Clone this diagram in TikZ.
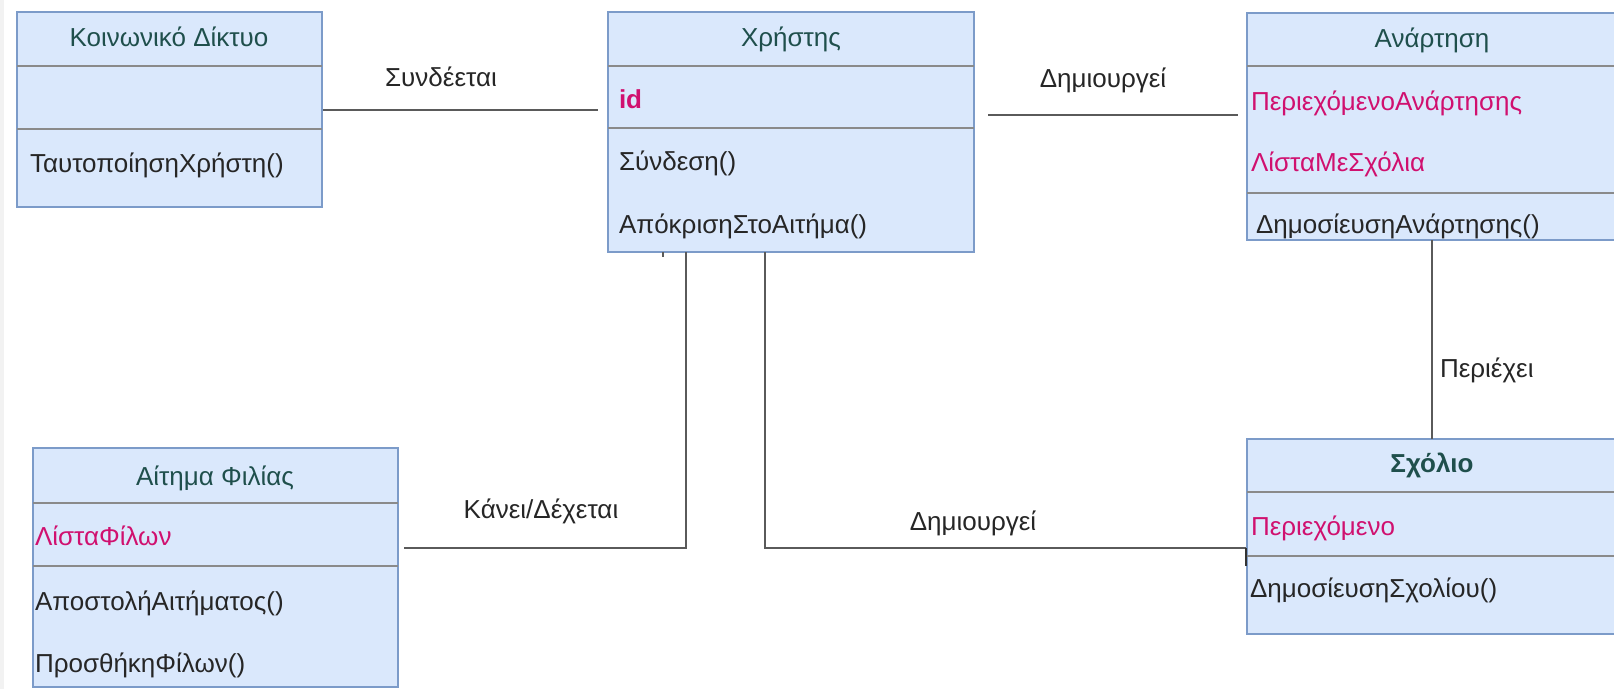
\documentclass[tikz,border=0pt]{standalone}
\usepackage{fontspec}
\setmainfont{Liberation Sans}
\definecolor{boxfill}{HTML}{DAE8FC}
\definecolor{boxline}{HTML}{7C9BC9}
\definecolor{sepline}{HTML}{8A8A8A}
\definecolor{headtxt}{HTML}{1F4F4C}
\definecolor{attrtxt}{HTML}{D0106F}
\definecolor{conn}{HTML}{5A5A5A}
\definecolor{stripgray}{HTML}{F2F2F2}
\begin{document}
\begin{tikzpicture}[x=1pt,y=-1pt,
  umlbox/.style={draw=boxline, fill=boxfill, line width=1.5pt, rectangle, inner sep=0pt, outer sep=0pt, anchor=north west},
  sep/.style={draw=sepline, line width=2pt},
  conline/.style={draw=conn, line width=2.8pt},
  txt/.style={inner sep=0pt, outer sep=0pt, font=\fontsize{26}{30}\selectfont},
  head/.style={txt, text=headtxt, anchor=base},
  attr/.style={txt, text=attrtxt, anchor=base west},
  meth/.style={txt, text=black!85, anchor=base west},
  lbl/.style={txt, text=black!85, anchor=base}]
\useasboundingbox (0,0) rectangle (1614,689);
\fill[white] (0,0) rectangle (1614,689);
\fill[stripgray] (0,0) rectangle (4,689);

% boxes
\node[umlbox, minimum width=305pt, minimum height=195pt] (kd) at (17,12) {};
\node[umlbox, minimum width=366pt, minimum height=240pt] (user) at (608,12) {};
\node[umlbox, minimum width=400pt, minimum height=227pt] (post) at (1247,13) {};
\node[umlbox, minimum width=400pt, minimum height=195pt] (com) at (1247,439) {};
\node[umlbox, minimum width=365pt, minimum height=239pt] (fr) at (33,448) {};

% separators
\draw[sep] (kd.west |- 0,66) -- (kd.east |- 0,66);
\draw[sep] (kd.west |- 0,129) -- (kd.east |- 0,129);
\draw[sep] (user.west |- 0,66) -- (user.east |- 0,66);
\draw[sep] (user.west |- 0,128) -- (user.east |- 0,128);
\draw[sep] (post.west |- 0,66) -- (post.east |- 0,66);
\draw[sep] (post.west |- 0,193) -- (post.east |- 0,193);
\draw[sep] (com.west |- 0,492) -- (com.east |- 0,492);
\draw[sep] (com.west |- 0,556) -- (com.east |- 0,556);
\draw[sep] (fr.west |- 0,503) -- (fr.east |- 0,503);
\draw[sep] (fr.west |- 0,566) -- (fr.east |- 0,566);

% texts
\node[head] (kdh) at (169,46) {Κοινωνικό Δίκτυο};
\node[meth] (kdm1) at (30,172) {ΤαυτοποίησηΧρήστη()};

\node[head] (userh) at (791,46) {Χρήστης};
\node[attr, font=\fontsize{26}{30}\selectfont\bfseries] (usera1) at (619,108) {id};
\node[meth] (userm1) at (619,170) {Σύνδεση()};
\node[meth] (userm2) at (619,233) {ΑπόκρισηΣτοΑιτήμα()};

\node[head] (posth) at (1432,47) {Ανάρτηση};
\node[attr] (posta1) at (1251,110) {ΠεριεχόμενοΑνάρτησης};
\node[attr] (posta2) at (1251,171) {ΛίσταΜεΣχόλια};
\node[meth] (postm1) at (1256,233) {ΔημοσίευσηΑνάρτησης()};

\node[head, font=\fontsize{26}{30}\selectfont\bfseries] (comh) at (1432,472) {Σχόλιο};
\node[attr] (coma1) at (1251,535) {Περιεχόμενο};
\node[meth] (comm1) at (1250,597) {ΔημοσίευσηΣχολίου()};

\node[head] (frh) at (215,485) {Αίτημα Φιλίας};
\node[attr] (fra1) at (35,545) {ΛίσταΦίλων};
\node[meth] (frm1) at (35,610) {ΑποστολήΑιτήματος()};
\node[meth] (frm2) at (35,672) {ΠροσθήκηΦίλων()};

% connector coordinates
\coordinate (c1a) at (323,110);
\coordinate (c1b) at (598,110);
\coordinate (c2a) at (988,115);
\coordinate (c2b) at (1238,115);
\coordinate (c3x) at (1432,0);
\coordinate (c4x) at (686,0);
\coordinate (c4b) at (404,548);
\coordinate (c5x) at (765,0);
\coordinate (c5b) at (1246,548);
\coordinate (c5c) at (1246,566);
\coordinate (tickx) at (663,0);

% connectors
\draw[conline] (c1a) -- (c1b);
\draw[conline] (c2a) -- (c2b);
\draw[conline] (post.south -| c3x) -- (com.north -| c3x);
\draw[conline] (user.south -| c4x) -- (c4x |- c4b) -- (c4b);
\draw[conline] (user.south -| c5x) -- (c5x |- c5b) -- (c5b);
\draw[draw=black!80, line width=2.8pt] (c5b) -- (c5c);
\draw[draw=conn, line width=1.5pt] (user.south -| tickx) -- ++(0,5);

% labels
\node[lbl] (l1) at (441,86) {Συνδέεται};
\node[lbl] (l2) at (1103,87) {Δημιουργεί};
\node[lbl, anchor=base west] (l3) at (1440,377) {Περιέχει};
\node[lbl] (l4) at (541,518) {Κάνει/Δέχεται};
\node[lbl] (l5) at (973,530) {Δημιουργεί};
\end{tikzpicture}
\end{document}
